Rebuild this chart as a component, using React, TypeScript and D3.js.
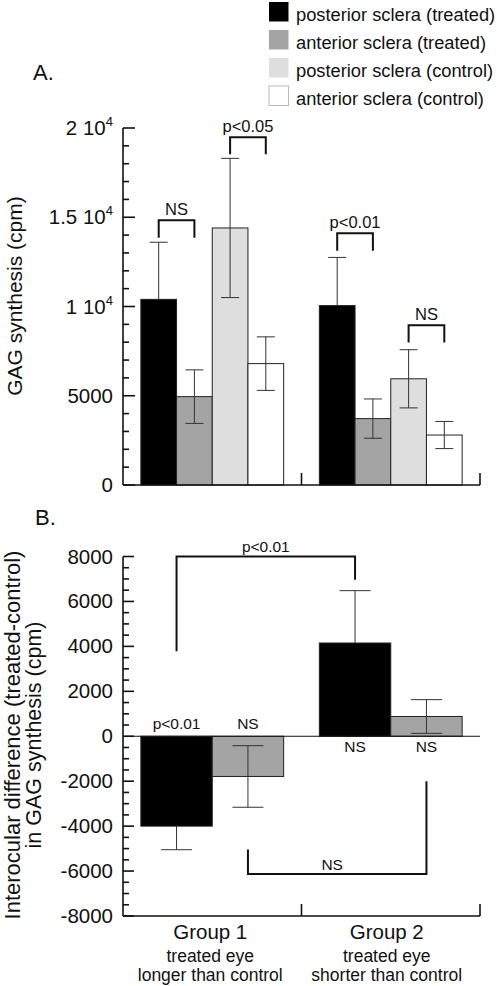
import React from "react";
import * as d3 from "d3";

// ---------- data ----------
const groups = ["Group 1", "Group 2"];
const seriesA = [
  "posterior sclera (treated)",
  "anterior sclera (treated)",
  "posterior sclera (control)",
  "anterior sclera (control)",
];
const colorsA = ["#000000", "#a4a4a4", "#dedede", "#ffffff"];
const valuesA = [
  [10400, 4950, 14400, 6800],
  [10050, 3720, 5950, 2800],
];
const errorsA = [
  [3200, 1500, 3900, 1500],
  [2700, 1100, 1630, 760],
];
const tickLabelsA = [
  { v: 0, main: "0", sup: "" },
  { v: 5000, main: "5000", sup: "" },
  { v: 10000, main: "1 10", sup: "4" },
  { v: 15000, main: "1.5 10", sup: "4" },
  { v: 20000, main: "2 10", sup: "4" },
];
// brackets: group index, from series, to series, top value, leg end value, label
const bracketsA = [
  { g: 0, a: 0, b: 1, top: 14830, leg: 13850, label: "NS" },
  { g: 0, a: 2, b: 3, top: 19480, leg: 18530, label: "p<0.05" },
  { g: 1, a: 0, b: 1, top: 14100, leg: 13130, label: "p<0.01" },
  { g: 1, a: 2, b: 3, top: 8950, leg: 7990, label: "NS" },
];

const seriesB = ["posterior sclera", "anterior sclera"];
const colorsB = ["#000000", "#a4a4a4"];
const valuesB = [
  [-4000, -1790],
  [4150, 880],
];
const errorsB = [
  [1050, 1370],
  [2330, 750],
];
const tickValuesB = [-8000, -6000, -4000, -2000, 0, 2000, 4000, 6000, 8000];
const labelsB = [
  { g: 0, s: 0, v: 330, text: "p<0.01" },
  { g: 0, s: 1, v: 330, text: "NS" },
  { g: 1, s: 0, v: -710, text: "NS" },
  { g: 1, s: 1, v: -710, text: "NS" },
];
const groupSub1 = ["treated eye", "treated eye"];
const groupSub2 = ["longer than control", "shorter than control"];

// ---------- layout ----------
const W = 497;
const H = 986;
const FONT = "'Liberation Sans', Arial, Helvetica, sans-serif";
const AX = "#111";

function ErrorBar({ cx, yTop, yBot, half, outwardOnly, yBar, up }: any) {
  // outwardOnly: draw only the part outside a dark bar
  if (outwardOnly) {
    const yEnd = up ? yTop : yBot;
    return (
      <g stroke="#333" strokeWidth={1}>
        <line x1={cx} x2={cx} y1={yBar} y2={yEnd} />
        <line x1={cx - half} x2={cx + half} y1={yEnd} y2={yEnd} />
      </g>
    );
  }
  return (
    <g stroke="#333" strokeWidth={1}>
      <line x1={cx} x2={cx} y1={yTop} y2={yBot} />
      <line x1={cx - half} x2={cx + half} y1={yTop} y2={yTop} />
      <line x1={cx - half} x2={cx + half} y1={yBot} y2={yBot} />
    </g>
  );
}

export default function App() {
  const x = d3.scaleBand().domain(groups).range([123, 480]).padding(0);
  const bw = x.bandwidth();
  const xA = d3.scaleBand().domain(seriesA.map((_, i) => String(i))).range([0, bw]).paddingInner(0).paddingOuter(0.5);
  const xB = d3.scaleBand().domain(seriesB.map((_, i) => String(i))).range([0, bw]).paddingInner(0).paddingOuter(0.25);

  const yA = d3.scaleLinear().domain([0, 20000]).range([485, 128]);
  const yB = d3.scaleLinear().domain([-8000, 8000]).range([916, 556.5]);

  const cxA = (g: number, s: number) => (x(groups[g]) as number) + (xA(String(s)) as number) + xA.bandwidth() / 2;
  const cxB = (g: number, s: number) => (x(groups[g]) as number) + (xB(String(s)) as number) + xB.bandwidth() / 2;

  const minorA = d3.range(0, 20001, 1000);
  const minorB = d3.range(-8000, 8001, 500);

  const [x0, x1] = x.range();

  return (
    <svg width={W} height={H} style={{ position: "absolute", left: 0, top: 0, background: "#fff" }} fontFamily={FONT}>
      <rect width={W} height={H} fill="#fff" />
      {/* Legend */}
      {seriesA.map((s, i) => (
        <g key={s} transform={`translate(269, ${2 + i * 28})`}>
          <rect x={0} y={0} width={19.5} height={19.5} fill={colorsA[i]} stroke={i === 3 ? "#bbb" : "none"} strokeWidth={1} />
          <text x={27} y={19} fontSize={18.3} fill="#111">{s}</text>
        </g>
      ))}

      {/* ---------- Panel A ---------- */}
      <text x={33} y={80} fontSize={22} fill="#111">A.</text>
      <text transform={`translate(22, 296) rotate(-90)`} textAnchor="middle" fontSize={21} fill="#111">
        GAG synthesis (cpm)
      </text>
      {/* bars */}
      {valuesA.map((row, g) =>
        row.map((v, s) => (
          <rect
            key={`a${g}${s}`}
            x={(x(groups[g]) as number) + (xA(String(s)) as number)}
            y={yA(v)}
            width={xA.bandwidth()}
            height={yA(0) - yA(v)}
            fill={colorsA[s]}
            stroke="#222"
            strokeWidth={1}
          />
        ))
      )}
      {/* error bars */}
      {valuesA.map((row, g) =>
        row.map((v, s) => {
          const e = errorsA[g][s];
          return (
            <ErrorBar
              key={`ea${g}${s}`}
              cx={cxA(g, s)}
              yTop={yA(v + e)}
              yBot={yA(v - e)}
              half={9}
              outwardOnly={s === 0}
              yBar={yA(v)}
              up={true}
            />
          );
        })
      )}
      {/* brackets */}
      {bracketsA.map((b, i) => {
        const xa = cxA(b.g, b.a);
        const xb = cxA(b.g, b.b);
        return (
          <g key={`ba${i}`}>
            <path
              d={`M${xa},${yA(b.leg)}V${yA(b.top)}H${xb}V${yA(b.leg)}`}
              fill="none"
              stroke="#111"
              strokeWidth={2}
            />
            <text x={(xa + xb) / 2} y={yA(b.top) - 5} textAnchor="middle" fontSize={16.5} fill="#111">
              {b.label}
            </text>
          </g>
        );
      })}
      {/* axes */}
      <g stroke={AX} strokeWidth={1.6} fill="none">
        <line x1={x0} x2={x0} y1={yA(20000)} y2={yA(0)} />
        <line x1={x0} x2={x1} y1={yA(0)} y2={yA(0)} />
        {groups.map((g) => {
          const xe = (x(g) as number) + bw;
          return <line key={g} x1={xe} x2={xe} y1={yA(0)} y2={yA(0) - 12} />;
        })}
        {minorA.map((v) => (
          <line key={v} x1={x0} x2={x0 + (v % 5000 === 0 ? 12 : 6)} y1={yA(v)} y2={yA(v)} />
        ))}
      </g>
      {tickLabelsA.map((t) => (
        <text key={t.v} x={113} y={yA(t.v) + 7} textAnchor="end" fontSize={20.5} fill="#111">
          {t.main}
          {t.sup ? (
            <tspan fontSize={13} dy={-9}>{t.sup}</tspan>
          ) : null}
        </text>
      ))}

      {/* ---------- Panel B ---------- */}
      <text x={35} y={525} fontSize={22} fill="#111">B.</text>
      <text transform={`translate(20, 735) rotate(-90)`} textAnchor="middle" fontSize={22} fill="#111">
        Interocular difference (treated-control)
      </text>
      <text transform={`translate(41, 735) rotate(-90)`} textAnchor="middle" fontSize={21.5} fill="#111">
        in GAG synthesis (cpm)
      </text>
      {valuesB.map((row, g) =>
        row.map((v, s) => (
          <rect
            key={`b${g}${s}`}
            x={(x(groups[g]) as number) + (xB(String(s)) as number)}
            y={Math.min(yB(v), yB(0))}
            width={xB.bandwidth()}
            height={Math.abs(yB(0) - yB(v))}
            fill={colorsB[s]}
            stroke="#222"
            strokeWidth={1}
          />
        ))
      )}
      {valuesB.map((row, g) =>
        row.map((v, s) => {
          const e = errorsB[g][s];
          return (
            <ErrorBar
              key={`eb${g}${s}`}
              cx={cxB(g, s)}
              yTop={yB(v + e)}
              yBot={yB(v - e)}
              half={15.5}
              outwardOnly={s === 0}
              yBar={yB(v)}
              up={v >= 0}
            />
          );
        })
      )}
      {/* zero line */}
      <line x1={x0} x2={x1} y1={yB(0)} y2={yB(0)} stroke={AX} strokeWidth={1} />
      {/* brackets */}
      <path
        d={`M${cxB(0, 0)},${yB(3780)}V${yB(8000)}H${cxB(1, 0)}V${yB(6960)}`}
        fill="none"
        stroke="#111"
        strokeWidth={2}
      />
      <text x={(cxB(0, 0) + cxB(1, 0)) / 2} y={yB(8000) - 5} textAnchor="middle" fontSize={15.5} fill="#111">
        p&lt;0.01
      </text>
      <path
        d={`M${cxB(0, 1)},${yB(-5040)}V${yB(-6130)}H${cxB(1, 1)}V${yB(-2000)}`}
        fill="none"
        stroke="#111"
        strokeWidth={2}
      />
      <text x={(cxB(0, 1) + cxB(1, 1)) / 2 - 5} y={yB(-6130) - 4} textAnchor="middle" fontSize={15.5} fill="#111">
        NS
      </text>
      {labelsB.map((l, i) => (
        <text key={`lb${i}`} x={cxB(l.g, l.s)} y={yB(l.v)} textAnchor="middle" fontSize={15.5} fill="#111">
          {l.text}
        </text>
      ))}
      {/* axes */}
      <g stroke={AX} strokeWidth={1.6} fill="none">
        <line x1={x0} x2={x0} y1={yB(8000)} y2={yB(-8000)} />
        <line x1={x0} x2={x1} y1={yB(-8000)} y2={yB(-8000)} />
        {groups.map((g) => {
          const xe = (x(g) as number) + bw;
          return <line key={g} x1={xe} x2={xe} y1={yB(-8000)} y2={yB(-8000) - 12} />;
        })}
        {minorB.map((v) => (
          <line key={v} x1={x0} x2={x0 + (v % 2000 === 0 ? 11 : 6)} y1={yB(v)} y2={yB(v)} />
        ))}
      </g>
      {tickValuesB.map((v) => (
        <text key={v} x={113} y={yB(v) + 7} textAnchor="end" fontSize={20.5} fill="#111">
          {String(v)}
        </text>
      ))}
      {/* group labels */}
      {groups.map((g, i) => {
        const cx = (x(g) as number) + bw / 2 - 2 - i * 2;
        return (
          <g key={g} fill="#111" textAnchor="middle">
            <text x={cx} y={939} fontSize={20.5}>{g}</text>
            <text x={cx} y={962} fontSize={17.5}>{groupSub1[i]}</text>
            <text x={cx} y={981} fontSize={17.5}>{groupSub2[i]}</text>
          </g>
        );
      })}
    </svg>
  );
}
